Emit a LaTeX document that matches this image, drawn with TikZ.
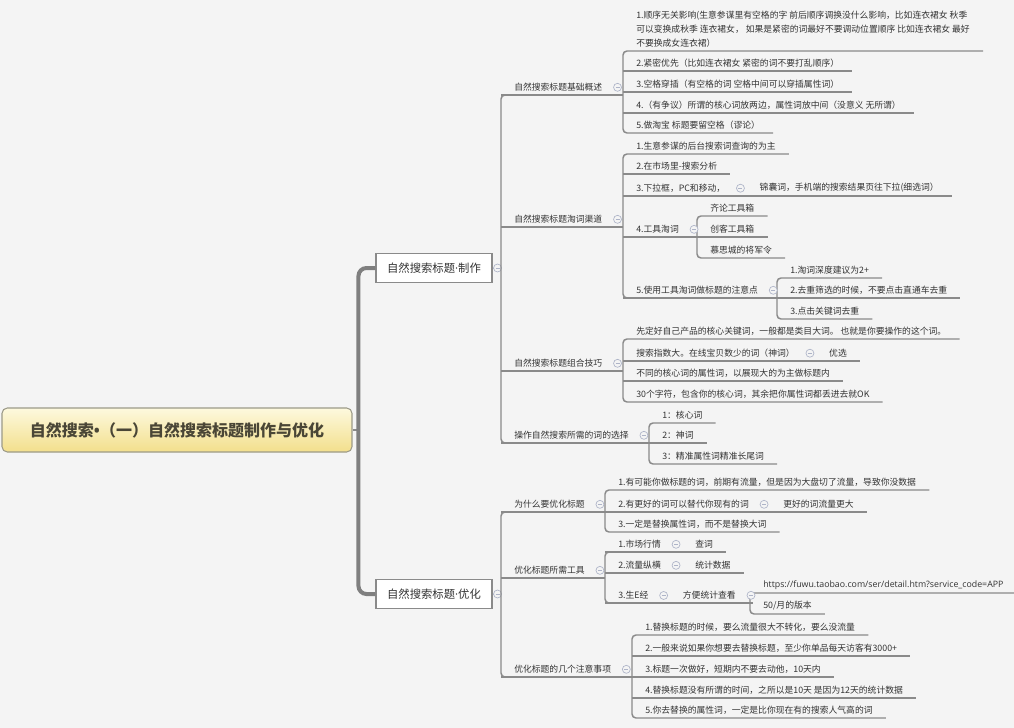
\documentclass[tikz,border=0pt]{standalone}
\usepackage{fontspec}
\setmainfont{Noto Sans CJK SC}
\newfontfamily\urlfont{Open Sans}
\definecolor{mmback}{HTML}{F4F4F4}
\definecolor{mmline}{HTML}{8A8A8A}
\definecolor{mmtrunk}{HTML}{7F7F7F}
\definecolor{mmtext}{HTML}{333333}
\definecolor{mmfold}{HTML}{AEB4C8}
\definecolor{mmroottop}{HTML}{FDF9DE}
\definecolor{mmrootbot}{HTML}{F3DF8C}
\definecolor{mmrootdraw}{HTML}{9C9A88}
\definecolor{mmroottext}{HTML}{4A4636}
\usetikzlibrary{positioning,calc}

\begin{document}
\begin{tikzpicture}[
  x=0.75pt, y=-0.75pt,
  roottopic/.style={
    rectangle, rounded corners=4pt,
    minimum width=262.5pt, minimum height=33pt,
    draw=mmrootdraw, line width=0.8pt,
    top color=mmroottop, bottom color=mmrootbot,
    font=\fontsize{12}{14}\selectfont\bfseries,
    text=mmroottext
  },
  maintopic/.style={
    rectangle, minimum width=87pt, minimum height=21.75pt,
    draw=mmline, line width=0.8pt, fill=white,
    font=\fontsize{8.5}{10}\selectfont, text=mmtext
  },
  subtopic/.style={
    anchor=south west, inner xsep=9.75pt, inner ysep=2.5pt,
    font=\fontsize{6.6}{10.5}\selectfont, text=mmtext, align=left
  },
  branch/.style={draw=mmline, line width=1.1pt, rounded corners=3pt},
  trunk/.style={draw=mmtrunk, line width=3pt, rounded corners=6pt},
  stem/.style={draw=mmline, line width=0.8pt},
  foldlink/.style={draw=mmfold, line width=0.6pt},
  fold/.style={
    circle, draw=mmfold, fill=mmback, line width=0.5pt,
    inner sep=0pt, minimum size=6pt,
    path picture={\draw[mmfold, line width=0.5pt]
      ([xshift=-1.5pt]path picture bounding box.center) --
      ([xshift=1.5pt]path picture bounding box.center);}
  }
]
\useasboundingbox (0,0) rectangle (1014,728);
\fill[mmback] (0,0) rectangle (1014,728);
\clip (0,0) rectangle (1014,728);

\node[roottopic] (root) at (177,430) {自然搜索{\urlfont\bfseries •}（一）自然搜索标题制作与优化};
\node[maintopic] (mk) at (434,268) {自然搜索标题{\urlfont ·}制作};
\node[maintopic] (yh) at (434,594) {自然搜索标题{\urlfont ·}优化};

\node[subtopic] (jc) at (501,95)  {自然搜索标题基础概述};
\node[subtopic] (tc) at (501,227) {自然搜索标题淘词渠道};
\node[subtopic] (zh) at (501,371) {自然搜索标题组合技巧};
\node[subtopic] (xz) at (501,443) {操作自然搜索所需的词的选择};

\node[subtopic] (ws) at (501,512) {为什么要优化标题};
\node[subtopic] (gj) at (501,578) {优化标题所需工具};
\node[subtopic] (zy) at (501,677) {优化标题的几个注意事项};

\node[subtopic] (jc1) at (623,51)
  {1.顺序无关影响(生意参谋里有空格的字 前后顺序调换没什么影响，比如连衣裙女 秋季\\
   可以变换成秋季 连衣裙女， 如果是紧密的词最好不要调动位置顺序 比如连衣裙女 最好\\
   不要换成女连衣裙）};
\node[subtopic] (jc2) at (623,71)  {2.紧密优先（比如连衣裙女 紧密的词不要打乱顺序）};
\node[subtopic] (jc3) at (623,92)  {3.空格穿插（有空格的词 空格中间可以穿插属性词）};
\node[subtopic] (jc4) at (623,113) {4.（有争议）所谓的核心词放两边，属性词放中间（没意义 无所谓）};
\node[subtopic] (jc5) at (623,133) {5.做淘宝 标题要留空格（谬论）};

\node[subtopic] (tc1) at (623,154) {1.生意参谋的后台搜索词查询的为主};
\node[subtopic] (tc2) at (623,174) {2.在市场里-搜索分析};
\node[subtopic] (tc3) at (623,196) {3.下拉框，PC和移动，};
\node[subtopic] (tc3a) at ([xshift=6pt]tc3.south east) {锦囊词，手机端的搜索结果页往下拉(细选词）};
\node[subtopic] (tc4) at (623,237) {4.工具淘词};
\node[subtopic] (tc4a) at (697,216) {齐论工具箱};
\node[subtopic] (tc4b) at (697,237) {创客工具箱};
\node[subtopic] (tc4c) at (697,258) {慕思城的将军令};
\node[subtopic] (tc5) at (623,298) {5.使用工具淘词做标题的注意点};
\node[subtopic] (tc5a) at (777,278) {1.淘词深度建议为2+};
\node[subtopic] (tc5b) at (777,298) {2.去重筛选的时候，不要点击直通车去重};
\node[subtopic] (tc5c) at (777,319) {3.点击关键词去重};

\node[subtopic] (zh1) at (623,339) {先定好自己产品的核心关键词，一般都是类目大词。 也就是你要操作的这个词。};
\node[subtopic] (zh2) at (623,361) {搜索指数大。在线宝贝数少的词（神词）};
\node[subtopic] (zh2a) at ([xshift=6pt]zh2.south east) {优选};
\node[subtopic] (zh3) at (623,381) {不同的核心词的属性词，以展现大的为主做标题内};
\node[subtopic] (zh4) at (623,402) {30个字符，包含你的核心词，其余把你属性词都丢进去就OK};

\node[subtopic] (xz1) at (649,423) {1：核心词};
\node[subtopic] (xz2) at (649,443) {2：神词};
\node[subtopic] (xz3) at (649,464) {3：精准属性词精准长尾词};

\node[subtopic] (ws1) at (605,490) {1.有可能你做标题的词，前期有流量，但是因为大盘切了流量，导致你没数据};
\node[subtopic] (ws2) at (605,512) {2.有更好的词可以替代你现有的词};
\node[subtopic] (ws2a) at ([xshift=6pt]ws2.south east) {更好的词流量更大};
\node[subtopic] (ws3) at (605,532) {3.一定是替换属性词，而不是替换大词};

\node[subtopic] (gj1) at (605,552) {1.市场行情};
\node[subtopic] (gj1a) at ([xshift=6pt]gj1.south east) {查词};
\node[subtopic] (gj2) at (605,573) {2.流量纵横};
\node[subtopic] (gj2a) at ([xshift=6pt]gj2.south east) {统计数据};
\node[subtopic] (gj3) at (605,603) {3.生E经};
\node[subtopic] (gj3a) at ([xshift=6pt]gj3.south east) {方便统计查看};
\node[subtopic, font=\urlfont\fontsize{6.6}{9}\selectfont] (gj3a1) at (750,593)
  {https://fuwu.taobao.com/ser/detail.htm?service\_code=APP};
\node[subtopic] (gj3a2) at (750,614) {50/月的版本};

\node[subtopic] (zy1) at (632,635) {1.替换标题的时候，要么流量很大不转化，要么没流量};
\node[subtopic] (zy2) at (632,656) {2.一般来说如果你想要去替换标题，至少你单品每天访客有3000+};
\node[subtopic] (zy3) at (632,677) {3.标题一次做好，短期内不要去动他，10天内};
\node[subtopic] (zy4) at (632,698) {4.替换标题没有所谓的时间，之所以是10天 是因为12天的统计数据};
\node[subtopic] (zy5) at (632,718) {5.你去替换的属性词，一定是比你现在有的搜索人气高的词};

\draw[stem] (root.east) -- ++(7,0);
\draw[trunk] (mk.west) -- ++(-17,0) |- (yh.west);

\draw[foldlink] (mk.east) -- (mk.east -| jc.south west);
\draw[foldlink] (yh.east) -- (yh.east -| ws.south west);
\node[fold] (fmk) at ([xshift=3.75pt]mk.east) {};
\node[fold] (fyh) at ([xshift=3.75pt]yh.east) {};

\draw[branch] (jc.south east) -- (jc.south west) -- (xz.south west) -- (xz.south east);
\draw[branch] (ws.south east) -- (ws.south west) -- (zy.south west) -- (zy.south east);

\draw[branch] (jc.south west) -- (jc.south -| jc1.south west);
\draw[branch] (jc1.south east) -- (jc1.south west) -- (jc5.south west) -- (jc5.south east);
\draw[branch] (jc2.south west) -- (jc2.south east);
\draw[branch] (jc3.south west) -- (jc3.south east);
\draw[branch] (jc4.south west) -- (jc4.south east);

\draw[branch] (tc.south west) -- (tc.south -| tc1.south west);
\draw[branch] (tc1.south east) -- (tc1.south west) -- (tc5.south west) -- (tc5.south east);
\draw[branch] (tc2.south west) -- (tc2.south east);
\draw[branch] (tc3.south west) -- (tc3a.south east);
\draw[branch] (tc4.south west) -- (tc4.south -| tc4a.south west);
\draw[branch] (tc4a.south east) -- (tc4a.south west) -- (tc4c.south west) -- (tc4c.south east);
\draw[branch] (tc4b.south west) -- (tc4b.south east);
\draw[branch] (tc5.south west) -- (tc5.south -| tc5a.south west);
\draw[branch] (tc5a.south east) -- (tc5a.south west) -- (tc5c.south west) -- (tc5c.south east);
\draw[branch] (tc5b.south west) -- (tc5b.south east);

\draw[branch] (zh.south west) -- (zh.south -| zh1.south west);
\draw[branch] (zh1.south east) -- (zh1.south west) -- (zh4.south west) -- (zh4.south east);
\draw[branch] (zh2.south west) -- (zh2a.south east);
\draw[branch] (zh3.south west) -- (zh3.south east);

\draw[branch] (xz.south west) -- (xz.south -| xz1.south west);
\draw[branch] (xz1.south east) -- (xz1.south west) -- (xz3.south west) -- (xz3.south east);
\draw[branch] (xz2.south west) -- (xz2.south east);

\draw[branch] (ws.south west) -- (ws.south -| ws1.south west);
\draw[branch] (ws1.south east) -- (ws1.south west) -- (ws3.south west) -- (ws3.south east);
\draw[branch] (ws2.south west) -- (ws2a.south east);

\draw[branch] (gj.south west) -- (gj.south -| gj1.south west);
\draw[branch] (gj1.south east) -- (gj1.south west) -- (gj3.south west) -- (gj3.south east);
\draw[branch] (gj1.south west) -- (gj1a.south east);
\draw[branch] (gj2.south west) -- (gj2a.south east);
\draw[branch] (gj3.south west) -- (gj3a.south east) -- (gj3a.south -| gj3a1.south west);
\draw[branch] (gj3a1.south east) -- (gj3a1.south west) -- (gj3a2.south west) -- (gj3a2.south east);

\draw[branch] (zy.south west) -- (zy.south -| zy1.south west);
\draw[branch] (zy1.south east) -- (zy1.south west) -- (zy5.south west) -- (zy5.south east);
\draw[branch] (zy2.south west) -- (zy2.south east);
\draw[branch] (zy3.south west) -- (zy3.south east);
\draw[branch] (zy4.south west) -- (zy4.south east);

\node[fold] (fjc) at ([xshift=1.5pt]jc.east) {};
\node[fold] (ftc) at ([xshift=1.5pt]tc.east) {};
\node[fold] (fzh) at ([xshift=1.5pt]zh.east) {};
\node[fold] (fxz) at ([xshift=1.5pt]xz.east) {};
\node[fold] (fws) at ([xshift=1.5pt]ws.east) {};
\node[fold] (fgj) at ([xshift=1.5pt]gj.east) {};
\node[fold] (fzy) at ([xshift=1.5pt]zy.east) {};
\node[fold] (ftc3) at ([xshift=1.5pt]tc3.east) {};
\node[fold] (ftc4) at ([xshift=1.5pt]tc4.east) {};
\node[fold] (ftc5) at ([xshift=1.5pt]tc5.east) {};
\node[fold] (fzh2) at ([xshift=1.5pt]zh2.east) {};
\node[fold] (fws2) at ([xshift=1.5pt]ws2.east) {};
\node[fold] (fgj1) at ([xshift=1.5pt]gj1.east) {};
\node[fold] (fgj2) at ([xshift=1.5pt]gj2.east) {};
\node[fold] (fgj3) at ([xshift=1.5pt]gj3.east) {};
\node[fold] (fgj3a) at ([xshift=1.5pt]gj3a.east) {};
\end{tikzpicture}
\end{document}
